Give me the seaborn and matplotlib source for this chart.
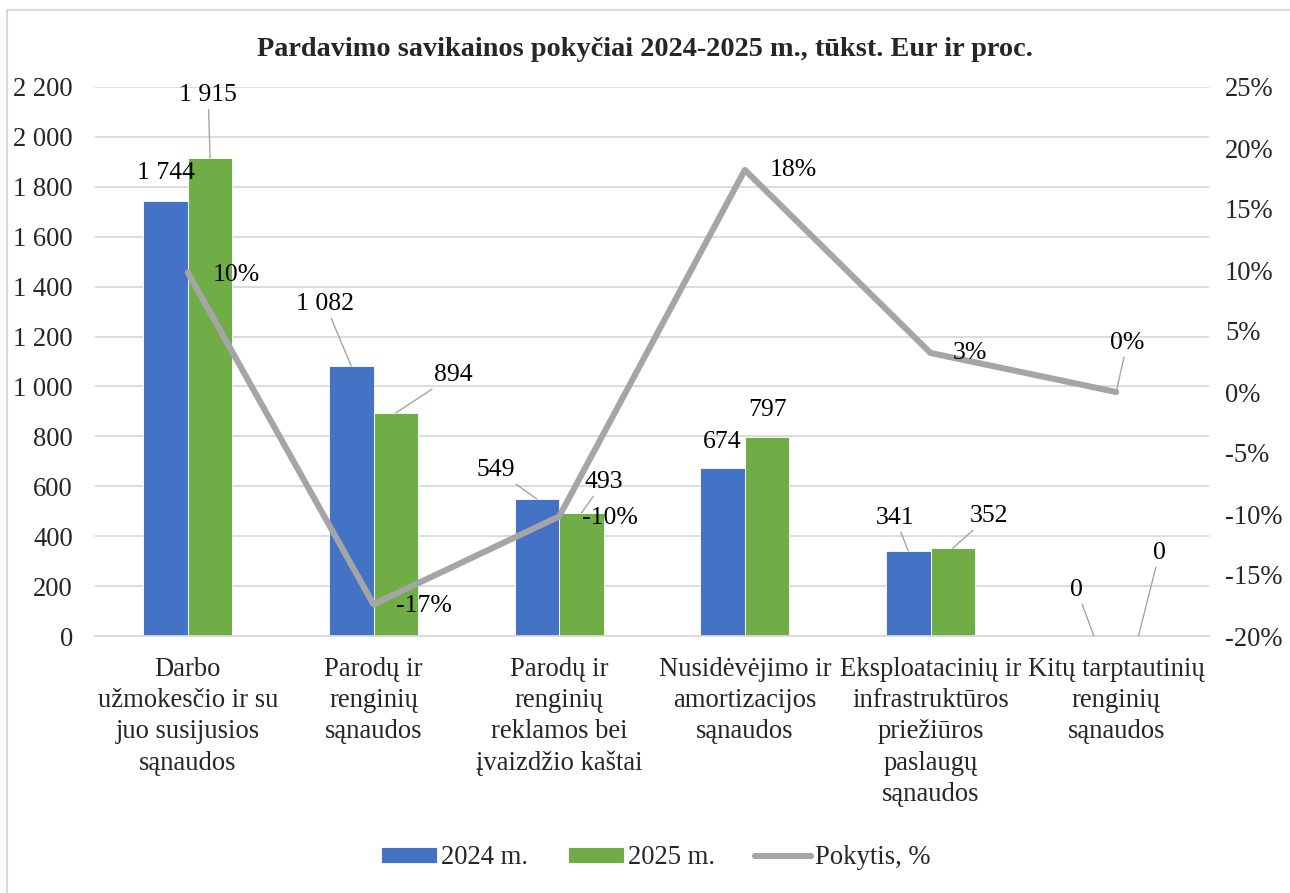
import numpy as np
import pandas as pd
import matplotlib
matplotlib.use("Agg")
import matplotlib.pyplot as plt
from matplotlib.patches import Rectangle
import seaborn as sns

# Duomenys
categories = [
    "Darbo\nužmokesčio ir su\njuo susijusios\nsąnaudos",
    "Parodų ir\nrenginių\nsąnaudos",
    "Parodų ir\nrenginių\nreklamos bei\nįvaizdžio kaštai",
    "Nusidėvėjimo ir\namortizacijos\nsąnaudos",
    "Eksploatacinių ir\ninfrastruktūros\npriežiūros\npaslaugų\nsąnaudos",
    "Kitų tarptautinių\nrenginių\nsąnaudos",
]
values_2024 = [1744, 1082, 549, 674, 341, 0]
values_2025 = [1915, 894, 493, 797, 352, 0]
change_pct = [0.098, -0.174, -0.102, 0.182, 0.032, 0.0]
series_names = ["2024 m.", "2025 m."]
line_name = "Pokytis, %"
title = "Pardavimo savikainos pokyčiai 2024-2025 m., tūkst. Eur ir proc."

left_ticks = list(range(0, 2201, 200))
right_ticks = [-0.20, -0.15, -0.10, -0.05, 0.0, 0.05, 0.10, 0.15, 0.20, 0.25]

# Etikečių poslinkiai pikseliais (dx, dy, ar brėžti liniją)
offs_2024 = [(0, 28, False), (-26, 62, True), (-41, 29, True),
             (0, 26, False), (-13, 33, True), (-17, 46, True)]
offs_2025 = [(-2, 63, True), (58, 38, True), (22, 31, True),
             (0, 27, False), (36, 32, True), (21, 83, True)]
offs_line = [(48, -3, False), (50, -2, False), (51, -2, False),
             (48, 0, False), (39, 0, False), (11, 49, True)]

BLUE = "#4472C4"
GREEN = "#70AD47"
GRAY = "#A5A5A5"
GRID = "#D9D9D9"
FS = 18.5
FS_TICK = 19.2


def fmt_num(v):
    return f"{v:,}".replace(",", " ")


def add_label(ax, x, y, text, off):
    dx, dy, leader = off
    kw = {}
    if leader:
        kw["arrowprops"] = dict(arrowstyle="-", color=GRAY, lw=1.0,
                                shrinkA=0, shrinkB=0)
    ax.annotate(text, xy=(x, y), xytext=(dx, dy), textcoords="offset pixels",
                ha="center", va="center", fontsize=FS, color="black",
                zorder=10, **kw)


def main():
    sns.set_style("white")
    plt.rcParams["font.family"] = ["Liberation Serif", "DejaVu Serif"]
    plt.rcParams["axes.unicode_minus"] = False

    df = pd.DataFrame({
        "kategorija": categories * 2,
        "metai": [series_names[0]] * len(categories) + [series_names[1]] * len(categories),
        "suma": values_2024 + values_2025,
    })

    fig = plt.figure(figsize=(12.9, 8.93), dpi=100)
    ax = fig.add_axes([95 / 1290, 1 - 636 / 893, (1209 - 95) / 1290, (636 - 87) / 893])

    sns.barplot(data=df, x="kategorija", y="suma", hue="metai",
                palette=[BLUE, GREEN], saturation=1, width=0.48,
                edgecolor="white", linewidth=0.6, ax=ax, zorder=2)

    ax.set_ylim(0, 2200)
    ax.set_xlim(-0.5, len(categories) - 0.5)
    ax.set_yticks(left_ticks)
    ax.set_yticklabels([fmt_num(v) for v in left_ticks], fontsize=FS_TICK)
    ax.yaxis.grid(True, color=GRID, lw=1.3, zorder=0)
    ax.set_axisbelow(True)
    ax.tick_params(axis="y", length=0, pad=16)
    ax.set_xlabel("")
    ax.set_ylabel("")
    ax.set_xticks(range(len(categories)))
    ax.set_xticklabels(categories, fontsize=FS_TICK, linespacing=1.33)
    ax.tick_params(axis="x", which="major", length=0, pad=15)
    ax.set_xticks(np.arange(-0.5, len(categories), 1.0), minor=True)
    ax.tick_params(axis="x", which="minor", length=8, color=GRID, width=1.3)
    for s in ["left", "right", "top"]:
        ax.spines[s].set_visible(False)
    ax.spines["bottom"].set_color(GRID)
    ax.spines["bottom"].set_linewidth(1.3)

    h1, l1 = ax.get_legend_handles_labels()
    if ax.get_legend() is not None:
        ax.get_legend().remove()

    # Antra ašis - pokytis procentais
    ax2 = ax.twinx()
    sns.lineplot(x=np.arange(len(categories)), y=change_pct, color=GRAY, lw=4.4,
                 sort=False, label=line_name, ax=ax2, zorder=5,
                 solid_joinstyle="round", solid_capstyle="round")
    ax2.set_ylim(-0.20, 0.25)
    ax2.set_yticks(right_ticks)
    ax2.set_yticklabels([f"{round(v * 100):d}%" for v in right_ticks], fontsize=FS_TICK)
    ax2.tick_params(axis="y", length=0, pad=11.5)
    ax2.set_ylabel("")
    for s in ["left", "right", "top", "bottom"]:
        ax2.spines[s].set_visible(False)
    ax2.grid(False)
    h2, l2 = ax2.get_legend_handles_labels()
    if ax2.get_legend() is not None:
        ax2.get_legend().remove()

    # Duomenų etiketės
    dodge = 0.12
    for i in range(len(categories)):
        add_label(ax2, i - dodge, ax2.transData.inverted().transform(
            ax.transData.transform((i, values_2024[i])))[1], fmt_num(values_2024[i]), offs_2024[i])
        add_label(ax2, i + dodge, ax2.transData.inverted().transform(
            ax.transData.transform((i, values_2025[i])))[1], fmt_num(values_2025[i]), offs_2025[i])
        add_label(ax2, i, change_pct[i], f"{round(change_pct[i] * 100):d}%", offs_line[i])

    fig.suptitle(title, x=0.5, y=1 - 50 / 893, va="center", fontsize=20.3,
                 fontweight="bold")

    fig.legend(h1 + h2, l1 + l2, loc="center",
               bbox_to_anchor=(0.5 + 11 / 1290, 1 - 858 / 893),
               ncol=3, frameon=False, fontsize=FS_TICK, handlelength=2.1,
               handleheight=0.55, handletextpad=0.15, columnspacing=1.5)

    # Diagramos rėmelis
    fig.patches.append(Rectangle((7 / 1290, -0.01), 1.1, 1 - 10 / 893 + 0.01,
                                 transform=fig.transFigure, fill=False,
                                 edgecolor=GRID, lw=1.5))

    fig.savefig("out.png", dpi=100)
    plt.close(fig)


if __name__ == "__main__":
    main()
